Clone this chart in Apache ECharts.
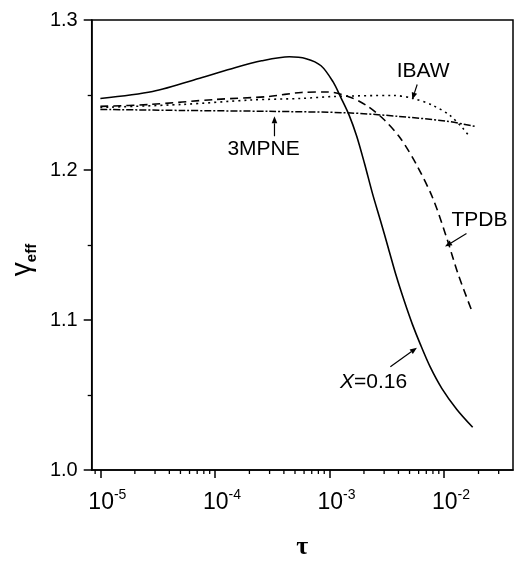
<!DOCTYPE html>
<html><head><meta charset="utf-8">
<script src="https://cdn.jsdelivr.net/npm/echarts@6/dist/echarts.min.js"></script>
<style>html,body{margin:0;padding:0;background:#fff}#c{width:514px;height:565px}</style>
</head><body><div id="c"></div>
<script>
// ---- data ----
const tauX016 = [1.0e-5, 2.857e-5, 7.73e-5, 1.492e-4, 2.556e-4, 4.463e-4, 6.258e-4, 8.441e-4, 1.0723e-3, 1.2578e-3, 1.4749e-3, 1.7291e-3, 2.0277e-3, 2.378e-3, 2.7889e-3, 3.271e-3, 3.8361e-3, 4.4985e-3, 5.2772e-3, 6.1888e-3, 7.5509e-3, 9.589e-3, 1.2932e-2, 1.7783e-2];
const gammaX016 = [1.2477, 1.2523, 1.2616, 1.2682, 1.2728, 1.2755, 1.2742, 1.2695, 1.2589, 1.2483, 1.2371, 1.2225, 1.2040, 1.1841, 1.1662, 1.1477, 1.1291, 1.1126, 1.0974, 1.0841, 1.0689, 1.0543, 1.0404, 1.0285];

const tauTPDB = [1.0e-5, 2.70e-5, 1.00e-4, 2.94e-4, 5.68e-4, 9.72e-4, 1.54e-3, 2.16e-3, 2.97e-3, 4.16e-3, 5.84e-3, 8.02e-3, 1.06e-2, 1.32e-2, 1.75e-2];
const gammaTPDB = [1.2424, 1.2437, 1.2470, 1.2490, 1.2517, 1.2520, 1.2483, 1.2424, 1.2338, 1.2212, 1.2026, 1.1808, 1.1543, 1.1311, 1.1060];

const tauIBAW = [1.0e-5, 5.21e-5, 2.09e-4, 5.68e-4, 1.09e-3, 3.61e-3, 5.38e-3, 8.02e-3, 1.125e-2, 1.46e-2, 1.68e-2];
const gammaIBAW = [1.2417, 1.2437, 1.2467, 1.2477, 1.2490, 1.2497, 1.2477, 1.2430, 1.2364, 1.2278, 1.2219];

const tau3MPNE = [1.0e-5, 5.21e-5, 2.94e-4, 1.45e-3, 3.92e-3, 1.06e-2, 1.85e-2];
const gamma3MPNE = [1.2404, 1.2397, 1.2391, 1.2381, 1.2358, 1.2325, 1.2291];

const yTicks = [1.0, 1.1, 1.2, 1.3];
const xMin = 8.4e-6, xMax = 0.04, yMin = 1.0, yMax = 1.3;

// annotation anchors in data space
const notes = [
  {text: 'IBAW', at: [6.57e-3, 1.2656], from: [5.83e-3, 1.2570], tip: [5.28e-3, 1.2470]},
  {text: '3MPNE', at: [2.66e-4, 1.2139], from: [3.31e-4, 1.2225], tip: [3.31e-4, 1.2358]},
  {text: 'TPDB', at: [2.04e-2, 1.1662], from: [1.57e-2, 1.1576], tip: [1.02e-2, 1.1490]},
  {text: '{i|X}=0.16', at: [2.43e-3, 1.0583], from: [3.40e-3, 1.0689], tip: [5.80e-3, 1.0815]}
];

const zip = (a, b) => a.map((v, i) => [v, b[i]]);
const minorTau = [];
for (let e = -6; e <= -1; e++) for (let m = 2; m <= 9; m++) {
  const v = m * Math.pow(10, e);
  if (v > xMin && v < xMax) minorTau.push(v);
}
const FONT = "'Liberation Sans', Arial, sans-serif";
const chart = echarts.init(document.getElementById('c'));
const lineBase = {type: 'line', showSymbol: false, symbol: 'none', smooth: 0.3, silent: true};
chart.setOption({
  animation: false,
  backgroundColor: '#fff',
  grid: {left: 88, right: 1, top: 20, bottom: 92, show: true, borderColor: '#000', borderWidth: 1.5, containLabel: false},
  xAxis: {
    type: 'log', logBase: 10, min: xMin, max: xMax,
    name: 'τ', nameLocation: 'middle', nameGap: 64,
    nameTextStyle: {fontFamily: "'Liberation Serif', 'DejaVu Serif', serif", fontWeight: 'bold', fontSize: 26, color: '#000'},
    axisLine: {show: true, lineStyle: {color: '#000', width: 1.5}},
    axisTick: {show: true, inside: false, length: 8, lineStyle: {color: '#000', width: 1.5}},
    splitLine: {show: false},
    axisLabel: {
      showMinLabel: false, showMaxLabel: false, margin: 18, color: '#000',
      formatter: v => '{b|10}{s|' + Math.round(Math.log10(v)) + '}',
      rich: {
        b: {fontFamily: FONT, fontSize: 23, lineHeight: 30, verticalAlign: 'middle', color: '#000', padding: [0, 0, 0, 14]},
        s: {fontFamily: FONT, fontSize: 14, lineHeight: 16, verticalAlign: 'top', color: '#000'}
      }
    }
  },
  yAxis: {
    type: 'value', min: yMin, max: yMax, interval: 0.1,
    name: '{g|γ}{e|eff}', nameLocation: 'middle', nameGap: 52, nameRotate: 90,
    nameTextStyle: {
      padding: [0, 30, 0, 0],
      rich: {
        g: {fontFamily: FONT, fontSize: 28, lineHeight: 34, verticalAlign: 'middle', color: '#000'},
        e: {fontFamily: FONT, fontSize: 15, fontWeight: 'bold', lineHeight: 16, verticalAlign: 'bottom', color: '#000'}
      }
    },
    axisLine: {show: true, lineStyle: {color: '#000', width: 1.5}},
    axisTick: {show: true, inside: false, length: 8, lineStyle: {color: '#000', width: 1.5}},
    minorTick: {show: true, splitNumber: 2, length: 4, lineStyle: {color: '#000', width: 1.3}},
    splitLine: {show: false},
    axisLabel: {fontFamily: FONT, fontSize: 20, color: '#000', margin: 14, formatter: v => v.toFixed(1)}
  },
  series: [
    Object.assign({}, lineBase, {name: 'X=0.16', data: zip(tauX016, gammaX016), lineStyle: {color: '#000', width: 1.6, type: 'solid'}}),
    Object.assign({}, lineBase, {name: 'TPDB', data: zip(tauTPDB, gammaTPDB), lineStyle: {color: '#000', width: 1.6, type: [8, 5]}}),
    Object.assign({}, lineBase, {name: 'IBAW', data: zip(tauIBAW, gammaIBAW), lineStyle: {color: '#000', width: 1.6, type: [2, 4]}}),
    Object.assign({}, lineBase, {name: '3MPNE', data: zip(tau3MPNE, gamma3MPNE), lineStyle: {color: '#000', width: 1.5, type: [7, 2, 2, 2]}}),
    {
      type: 'custom', name: 'minorTicks', silent: true, clip: false, z: 5,
      data: minorTau.map(v => [v, yMin]), encode: {x: 0, y: 1},
      renderItem: (params, api) => {
        const p = api.coord([api.value(0), api.value(1)]);
        return {type: 'line', shape: {x1: p[0], y1: p[1], x2: p[0], y2: p[1] + 4}, style: {stroke: '#000', lineWidth: 1.3}};
      }
    }
  ]
});

// annotations positioned via the chart's own scales
const px = d => chart.convertToPixel({xAxisIndex: 0, yAxisIndex: 0}, d);
const els = [];
notes.forEach(n => {
  const t = px(n.at), a = px(n.from), b = px(n.tip);
  els.push({type: 'text', x: t[0], y: t[1], style: {text: n.text, font: '21px ' + FONT, fill: '#000', align: 'center', verticalAlign: 'middle',
    rich: {i: {fontStyle: 'italic', fontSize: 21, fontFamily: FONT}}}});
  const dx = b[0] - a[0], dy = b[1] - a[1], L = Math.hypot(dx, dy), ux = dx / L, uy = dy / L;
  const hl = 7, hw = 2.8;
  const bx = b[0] - ux * hl, by = b[1] - uy * hl;
  els.push({type: 'line', shape: {x1: a[0], y1: a[1], x2: bx, y2: by}, style: {stroke: '#000', lineWidth: 1.2}});
  els.push({type: 'polygon', shape: {points: [[b[0], b[1]], [bx - uy * hw, by + ux * hw], [bx + uy * hw, by - ux * hw]]}, style: {fill: '#000'}});
});
chart.setOption({graphic: els});
</script>
</body></html>
